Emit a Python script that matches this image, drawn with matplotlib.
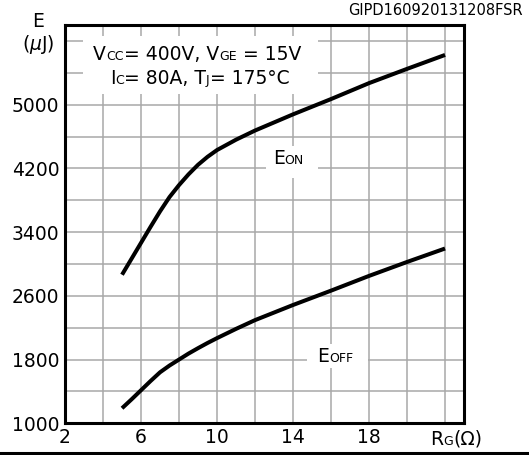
import matplotlib
matplotlib.use("Agg")
import matplotlib.pyplot as plt
from matplotlib.patches import Rectangle

plt.rcParams['font.family'] = ['DejaVu Sans']

# gate resistance (ohm) and switching energies (uJ)
rg = [5, 5.5, 6, 6.5, 7, 7.5, 8, 8.5, 9, 9.5, 10, 11, 12, 14, 16, 18, 20, 22]
e_on = [2865, 3065, 3265, 3465, 3660, 3840, 3990, 4125, 4245, 4345, 4430,
        4560, 4675, 4878, 5070, 5270, 5449, 5624]
e_off = [1189, 1300, 1415, 1530, 1640, 1725, 1800, 1875, 1943, 2008, 2069,
         2185, 2295, 2485, 2665, 2850, 3025, 3194]

x_ticks = [2, 4, 6, 8, 10, 12, 14, 16, 18, 20, 22]
x_labels = ['2', '', '6', '', '10', '', '14', '', '18', '', '']
y_ticks = [1000, 1400, 1800, 2200, 2600, 3000, 3400, 3800, 4200, 4600, 5000, 5400, 5800]
y_labels = ['1000', '', '1800', '', '2600', '', '3400', '', '4200', '', '5000', '', '']

BIG = 13.5
SMALL = 9


def rich(ax, parts, x0, y0, coords='data'):
    # pieces of different size on one baseline, each placed after the last
    tr = ax.transData if coords == 'data' else ax.get_xaxis_transform()
    s, fs = parts[0]
    prev = ax.text(x0, y0, s, fontsize=fs, va='baseline', ha='left',
                   transform=tr, zorder=5, clip_on=False)
    for s, fs in parts[1:]:
        prev = ax.annotate(s, xy=(1, y0), xycoords=(prev, coords), fontsize=fs,
                           va='baseline', ha='left', zorder=5,
                           annotation_clip=False)
    return prev


fig = plt.figure(figsize=(5.29, 4.55), dpi=100)
ax = fig.add_axes([0.1229, 0.0697, 0.7543, 0.8754])

ax.plot(rg, e_on, color='black', lw=2.9, solid_capstyle='butt',
        solid_joinstyle='round', zorder=3)
ax.plot(rg, e_off, color='black', lw=2.9, solid_capstyle='butt',
        solid_joinstyle='round', zorder=3)

ax.set_xlim(2, 23)
ax.set_ylim(1000, 6000)
ax.set_xticks(x_ticks)
ax.set_xticklabels(x_labels)
ax.set_yticks(y_ticks)
ax.set_yticklabels(y_labels)
ax.tick_params(length=0, labelsize=BIG, pad=4)
ax.tick_params(axis='x', pad=3.5)
ax.set_axisbelow(True)
ax.grid(True, color='#a8a8a8', lw=1.1)
for sp in ax.spines.values():
    sp.set_linewidth(2.2)

# white patches behind the labels
ax.add_patch(Rectangle((2.96, 5130), 12.34, 735, fc='white', ec='none', zorder=1))
ax.add_patch(Rectangle((12.6, 4080), 2.7, 400, fc='white', ec='none', zorder=1))
ax.add_patch(Rectangle((14.75, 1690), 3.2, 305, fc='white', ec='none', zorder=1))

rich(ax, [('V', BIG), ('CC', SMALL), ('= 400V, V', BIG), ('GE', SMALL), (' = 15V', BIG)],
     3.49, 5561)
rich(ax, [('I', BIG), ('C', SMALL), ('= 80A, T', BIG), ('J', SMALL), ('= 175\u00b0C', BIG)],
     4.36, 5264)
rich(ax, [('E', BIG), ('ON', SMALL)], 12.93, 4258)
rich(ax, [('E', BIG), ('OFF', SMALL)], 15.27, 1775)
rich(ax, [('R', BIG), ('G', SMALL), ('(\u03a9)', BIG)], 21.23, -0.0545, coords='axes fraction')

fig.text(0.0715, 0.9413, 'E', fontsize=BIG, ha='center', va='baseline')
fig.text(0.0715, 0.890, '($\\mu$J)', fontsize=BIG, ha='center', va='baseline')
fig.text(0.988, 0.967, 'GIPD160920131208FSR', fontsize=10.5, ha='right', va='baseline')
fig.add_artist(plt.Line2D([0, 1], [0.0037, 0.0037], color='black', lw=2.2,
                          transform=fig.transFigure))

fig.savefig('out.png', dpi=100)
